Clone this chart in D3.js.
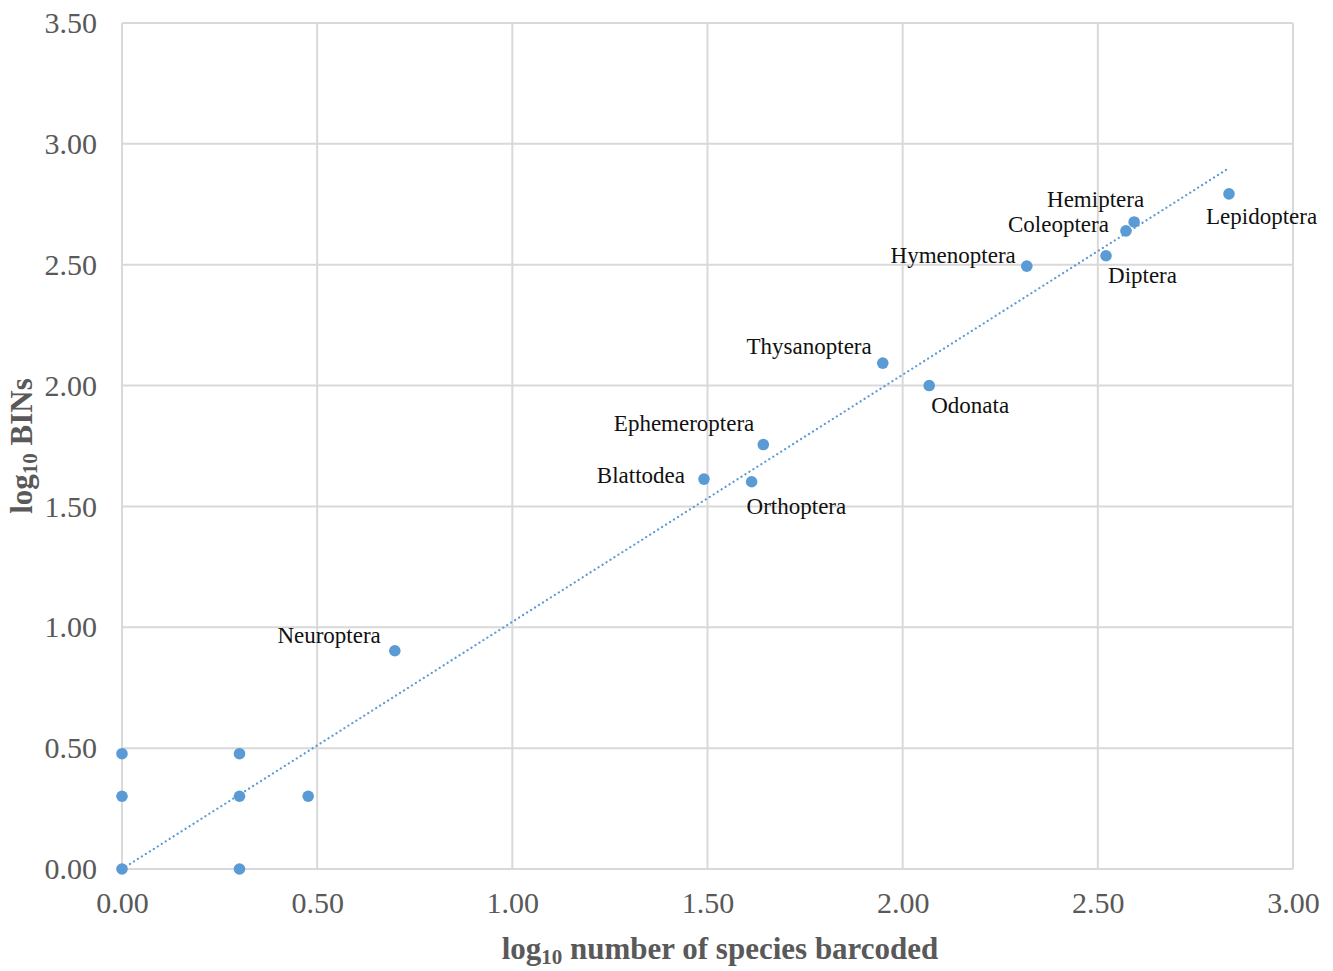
<!DOCTYPE html>
<html>
<head>
<meta charset="utf-8">
<script src="https://cdn.jsdelivr.net/npm/d3@7/dist/d3.min.js"></script>
<style>
  body { margin: 0; background: #fff; }
  svg { display: block; font-family: "Liberation Serif", "Times New Roman", serif; }
  .grid line { stroke: #d9d9d9; stroke-width: 2px; }
  .tick text { fill: #595959; font-size: 30px; font-family: "Liberation Serif", "Times New Roman", serif; }
  .lbl { fill: #111; font-size: 23px; }
  .title { fill: #595959; font-size: 31px; font-weight: bold; }
</style>
</head>
<body>
<div id="viz"></div>
<script>
// data (log10 values)
var orders = ["", "", "", "", "", "", "", "Neuroptera", "Blattodea", "Orthoptera", "Ephemeroptera",
    "Thysanoptera", "Odonata", "Hymenoptera", "Diptera", "Coleoptera", "Hemiptera", "Lepidoptera"];
var speciesLog = [0, 0, 0, 0.301, 0.301, 0.301, 0.477, 0.699, 1.491, 1.613, 1.643,
    1.949, 2.068, 2.318, 2.521, 2.572, 2.593, 2.836];
var binsLog = [0, 0.301, 0.477, 0, 0.301, 0.477, 0.301, 0.903, 1.613, 1.602, 1.756,
    2.093, 2.0, 2.494, 2.537, 2.640, 2.677, 2.793];
var trendX = [0, 2.836];
var trendY = [0, 2.90];
var xTicks = [0, 0.5, 1, 1.5, 2, 2.5, 3];
var yTicks = [0, 0.5, 1, 1.5, 2, 2.5, 3, 3.5];

// label placement (pixels from the point, anchor)
var labelPos = {
    "Neuroptera": [-14, -8, "end"],
    "Blattodea": [-19, 4, "end"],
    "Orthoptera": [-5, 32, "start"],
    "Ephemeroptera": [-9, -14, "end"],
    "Thysanoptera": [-11, -9, "end"],
    "Odonata": [2, 27, "start"],
    "Hymenoptera": [-11, -3, "end"],
    "Diptera": [2, 27, "start"],
    "Coleoptera": [-17, 1, "end"],
    "Hemiptera": [10, -15, "end"],
    "Lepidoptera": [-23, 30, "start"]
};

var W = 1333, H = 971;
var margin = {top: 23, left: 122, right: 40, bottom: 102};
var width = W - margin.left - margin.right,
    height = H - margin.top - margin.bottom;

var svg = d3.select('#viz').append('svg')
    .attr('width', W)
    .attr('height', H);

var g = svg.append('g')
    .attr('transform', 'translate(' + margin.left + ',' + margin.top + ')');

var x = d3.scaleLinear().domain([0, 3]).range([0, width]);
var y = d3.scaleLinear().domain([0, 3.5]).range([height, 0]);

// gridlines
g.append('g').attr('class', 'grid')
    .selectAll('line').data(yTicks).enter().append('line')
    .attr('x1', 0).attr('x2', width)
    .attr('y1', d => y(d)).attr('y2', d => y(d));
g.append('g').attr('class', 'grid')
    .selectAll('line').data(xTicks).enter().append('line')
    .attr('y1', 0).attr('y2', height)
    .attr('x1', d => x(d)).attr('x2', d => x(d));

// axes (labels only, lines come from the grid)
var xAxis = g.append('g')
    .attr('transform', 'translate(0,' + height + ')')
    .call(d3.axisBottom(x).tickValues(xTicks).tickFormat(d3.format('.2f')).tickSize(0).tickPadding(23));
xAxis.select('.domain').remove();

var yAxis = g.append('g')
    .call(d3.axisLeft(y).tickValues(yTicks).tickFormat(d3.format('.2f')).tickSize(0).tickPadding(25));
yAxis.select('.domain').remove();

// trendline
var line = d3.line()
    .x((d, i) => x(trendX[i]))
    .y(d => y(d));
g.append('path')
    .datum(trendY)
    .attr('d', line)
    .attr('fill', 'none')
    .attr('stroke', '#5b9bd5')
    .attr('stroke-width', 2.2)
    .attr('stroke-linecap', 'round')
    .attr('stroke-dasharray', '0.1 4.6');

// points
g.append('g').selectAll('circle')
    .data(speciesLog).enter().append('circle')
    .attr('cx', d => x(d))
    .attr('cy', (d, i) => y(binsLog[i]))
    .attr('r', 5.8)
    .attr('fill', '#5b9bd5');

// point labels
g.append('g').selectAll('text')
    .data(orders.map((o, i) => i).filter(i => orders[i] !== "")).enter().append('text')
    .attr('class', 'lbl')
    .attr('x', i => x(speciesLog[i]) + labelPos[orders[i]][0])
    .attr('y', i => y(binsLog[i]) + labelPos[orders[i]][1])
    .attr('text-anchor', i => labelPos[orders[i]][2])
    .text(i => orders[i]);

// axis titles
var xt = svg.append('text')
    .attr('class', 'title')
    .attr('x', 720)
    .attr('y', 959)
    .attr('text-anchor', 'middle');
xt.append('tspan').text('log');
xt.append('tspan').attr('font-size', '21px').attr('dy', 5).text('10');
xt.append('tspan').attr('dy', -5).text(' number of species barcoded');

var yt = svg.append('text')
    .attr('class', 'title')
    .attr('transform', 'translate(32,' + (margin.top + height / 2) + ') rotate(-90)')
    .attr('text-anchor', 'middle');
yt.append('tspan').text('log');
yt.append('tspan').attr('font-size', '21px').attr('dy', 5).text('10');
yt.append('tspan').attr('dy', -5).text(' BINs');
</script>
</body>
</html>
